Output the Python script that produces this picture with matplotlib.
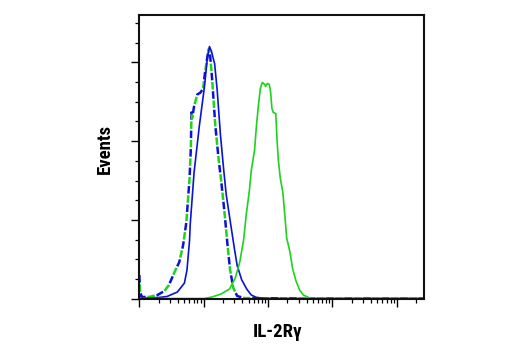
import numpy as np
import matplotlib
matplotlib.use("Agg")
import matplotlib.pyplot as plt
from matplotlib import font_manager
from matplotlib.ticker import LogLocator, MultipleLocator, NullFormatter

# ---- data (log10 fluorescence intensity, event counts) ----
blue_solid_log = [0.0, 0.04, 0.15, 0.31, 0.43, 0.59, 0.70, 0.74, 0.78, 0.79, 0.85, 0.93,
                  1.01, 1.06, 1.09, 1.12, 1.17, 1.21, 1.26, 1.31, 1.35, 1.42, 1.48, 1.52,
                  1.59, 1.67, 1.74, 1.82, 1.95, 2.5, 3.3, 4.0, 4.42]
blue_solid_cnt = [2.3, 0.4, 0.4, 0.8, 1.4, 4.2, 9.9, 18.2, 37, 47, 80, 109,
                  134, 154, 160, 157, 149, 132, 104, 82, 66, 47, 31, 21,
                  12, 6, 2.3, 0.8, 0.2, 0.1, 0.1, 0.1, 0.1]

dashed_log = [0.0, 0.01, 0.04, 0.15, 0.28, 0.39, 0.46, 0.54, 0.62, 0.68, 0.73, 0.78,
              0.80, 0.81, 0.82, 0.85, 0.90, 0.95, 0.99, 1.02, 1.06, 1.08, 1.10, 1.13,
              1.18, 1.23, 1.27, 1.32, 1.37, 1.41, 1.46, 1.52, 1.63, 2.5, 3.3, 4.0, 4.42]
dashed_cnt = [15, 4.2, 1.1, 1.1, 2.3, 4.9, 8.7, 16.3, 23.2, 34, 48.5, 76.4,
              95.4, 118.2, 114.4, 122, 129.6, 130.8, 133.4, 143.5, 154.2, 158.7, 154.2, 139.7,
              110, 89.1, 75.2, 56.1, 34, 18.2, 6.8, 1.7, 0.4, 0.1, 0.1, 0.1, 0.1]

green_solid_log = [0.0, 0.5, 1.01, 1.13, 1.27, 1.40, 1.49, 1.56, 1.62, 1.66, 1.71, 1.74,
                   1.79, 1.82, 1.85, 1.88, 1.91, 1.95, 1.96, 1.99, 2.02, 2.04, 2.06, 2.08,
                   2.12, 2.14, 2.16, 2.19, 2.23, 2.26, 2.29, 2.34, 2.38, 2.43, 2.49, 2.55,
                   2.65, 2.80, 3.3, 4.0, 4.42]
green_solid_cnt = [0.1, 0.1, 0.1, 1.1, 3.0, 6.1, 13.1, 23.2, 37.2, 53, 68.8, 81.5,
                   94.2, 110, 122.6, 133.4, 137.2, 135.9, 134.7, 136.6, 135.9, 130.9, 120.7, 118.2,
                   117.5, 100.4, 87.8, 76.4, 67.5, 53, 38.4, 29.6, 19.4, 11.8, 5.5, 2.3,
                   0.4, 0.1, 0.1, 0.1, 0.1]

x_label = "IL-2Rγ"
y_label = "Events"

BLUE = "#0a14d2"
GREEN = "#1ed21e"

# pick a condensed bold family if one is installed
installed = {f.name for f in font_manager.fontManager.ttflist}
label_family = "Liberation Sans"
label_size = 12.5
for cand, size in [("Liberation Sans Narrow", 14.0), ("Roboto Condensed", 13.5),
                   ("Open Sans Condensed", 13.5)]:
    if cand in installed:
        label_family, label_size = cand, size
        break
fam = [label_family, "DejaVu Sans"]

fig = plt.figure(figsize=(5.2, 3.5), dpi=100)
ax = fig.add_axes([0.268, 0.1466, 0.547, 0.8104])

ax.plot(10 ** np.array(dashed_log), dashed_cnt, color=BLUE, lw=1.8,
        linestyle=(0, (3, 4.4)))
ax.plot(10 ** np.array(dashed_log), dashed_cnt, color=GREEN, lw=1.8,
        linestyle=(3.7, (3, 4.4)))
ax.plot(10 ** np.array(blue_solid_log), blue_solid_cnt, color=BLUE, lw=1.2)
ax.plot(10 ** np.array(green_solid_log), green_solid_cnt, color=GREEN, lw=1.2)

ax.set_xscale("log")
ax.set_xlim(1, 10 ** 4.42)
ax.set_ylim(0, 180)

ax.xaxis.set_major_locator(LogLocator(base=10, numticks=10))
ax.xaxis.set_minor_locator(LogLocator(base=10, subs=np.arange(2, 10), numticks=20))
ax.xaxis.set_major_formatter(NullFormatter())
ax.xaxis.set_minor_formatter(NullFormatter())
ax.yaxis.set_major_locator(MultipleLocator(50))
ax.yaxis.set_minor_locator(MultipleLocator(12.5))
ax.yaxis.set_major_formatter(NullFormatter())

ax.tick_params(which="major", direction="out", length=6, width=1.0, color="black")
ax.tick_params(which="minor", direction="out", length=3, width=0.9, color="black")
ax.tick_params(top=False, right=False)

for s in ax.spines.values():
    s.set_linewidth(1.5)
    s.set_color("#111111")

ax.set_ylabel(y_label, fontsize=label_size, fontweight="bold", family=fam, va="center")
ax.yaxis.set_label_coords(-0.121, 0.528)
ax.set_xlabel(x_label, fontsize=label_size, fontweight="bold", family=fam, va="center")
ax.xaxis.set_label_coords(0.487, -0.117)

fig.savefig("out.png", dpi=100)
